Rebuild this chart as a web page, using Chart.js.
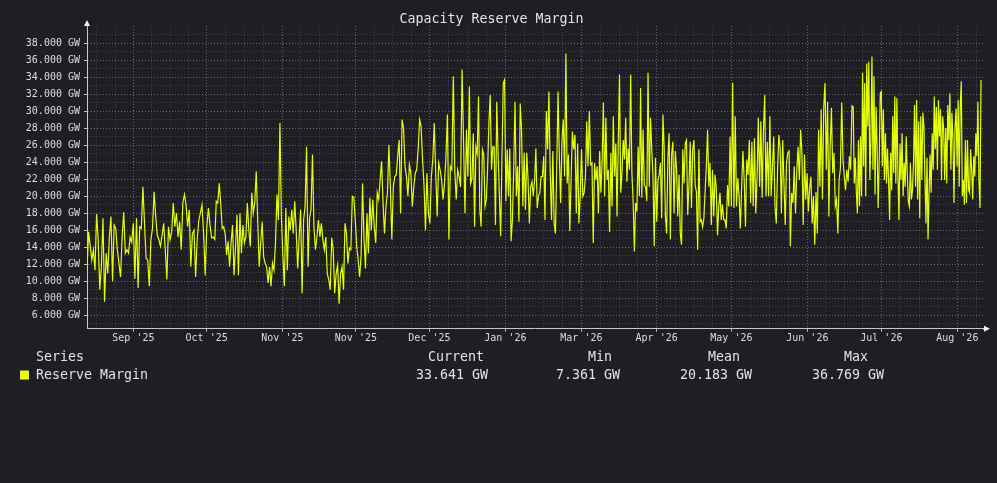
<!DOCTYPE html>
<html>
<head>
<meta charset="utf-8">
<title>Capacity Reserve Margin</title>
<script src="https://cdn.jsdelivr.net/npm/chart.js@4"></script>
<style>
  html, body { margin: 0; padding: 0; background: #1e1f22; }
  #chart { display: block; }
</style>
</head>
<body>
<canvas id="chart" width="997" height="483"></canvas>
<script>
// Reserve margin in GW in seven consecutive stretches.
// Each stretch is spread evenly over its own span of days.
const reserveAugSep = [11.3, 15.8, 14.2, 12.5, 13.7, 11.3, 17.9, 14.9, 9.0, 11.7, 17.4, 7.6, 13.3, 10.9, 15.2, 17.6, 10.0, 16.6, 16.2, 13.7,
  12.1, 10.5, 15.2, 18.1, 13.3, 13.7, 13.3, 15.2, 14.6, 16.8, 10.3, 17.4, 9.2, 16.4, 16.2, 21.1, 16.8, 12.7, 12.5, 9.4,
  14.9, 16.2, 20.5, 17.6, 15.4, 14.9, 14.1, 15.4, 16.8, 13.7, 10.2, 16.4, 14.9, 15.8, 19.2, 16.4, 18.0, 15.2, 17.0, 13.7,
  19.2, 20.2, 19.0, 16.4, 18.4, 11.7, 15.6, 16.0, 10.5, 14.9, 17.2, 18.0, 19.0, 15.6, 10.7, 16.4, 18.6, 16.6, 15.1, 15.2];
const reserveOctNov = [14.9, 19.4, 19.2, 21.5, 19.2, 16.2, 16.4, 15.6, 13.1, 14.7, 11.7, 14.5, 16.6, 10.7, 14.0, 17.8, 10.7, 18.0, 13.3, 16.6,
  14.5, 15.2, 19.2, 16.0, 14.1, 20.4, 18.0, 19.2, 22.9, 17.2, 11.7, 14.5, 17.0, 12.9, 12.1, 11.7, 9.8, 11.7, 9.4, 12.1,
  11.3, 14.5, 20.2, 17.2, 28.6, 17.6, 12.9, 9.4, 18.6, 11.3, 17.6, 16.0, 18.4, 15.6, 19.4, 16.0, 11.5, 15.2, 18.4, 8.6,
  17.2, 18.8, 25.8, 11.7, 17.4, 18.4, 24.9, 16.4, 13.7, 15.2, 17.2, 15.2, 16.8, 14.9, 13.7, 15.2, 10.9, 10.2, 9.0, 15.1,
  13.7, 8.6, 10.9, 11.9, 7.361, 10.9];
const reserveNovDec = [11.7, 9.0, 16.8, 15.6, 12.1, 13.9, 13.7, 20.0, 19.9, 17.2, 14.1, 12.5, 10.5, 13.0, 21.5, 14.9, 11.5, 18.0, 13.3, 19.8,
  16.0, 19.6, 16.4, 14.5, 20.4, 19.6, 21.9, 24.1, 19.2, 15.6, 18.8, 20.4, 26.0, 21.1, 14.9, 21.1, 22.3, 22.5, 24.7, 26.6,
  18.0, 29.0, 28.0, 23.5, 22.3, 20.0, 23.7, 22.7, 18.8, 21.1, 22.7, 23.1, 25.5, 29.0, 28.2, 24.3, 21.3, 16.0, 22.7, 18.0,
  16.8, 22.3, 24.3, 28.6, 22.7, 17.6, 23.9, 23.1, 21.9, 19.6, 21.5, 24.7, 29.6, 14.9, 23.5, 23.1, 34.1, 23.1, 19.6, 23.1,
  22.3, 21.1, 34.9, 26.6, 18.0, 27.8, 22.3];
const reserveJanFeb = [32.9, 21.5, 22.1, 27.4, 16.4, 25.8, 25.0, 31.7, 18.4, 16.4, 25.5, 24.9, 18.8, 19.6, 23.3, 28.6, 31.9, 23.1, 25.8, 25.8,
  16.6, 31.1, 25.1, 20.0, 15.3, 24.7, 33.3, 33.7, 19.4, 25.5, 20.0, 25.6, 14.7, 17.2, 23.3, 31.1, 20.0, 23.5, 17.0, 30.9,
  27.8, 18.8, 25.1, 18.4, 25.1, 21.9, 16.8, 21.1, 21.7, 20.0, 21.9, 25.6, 18.6, 20.0, 20.4, 22.3, 22.3, 24.7, 17.2, 30.0,
  25.5, 32.3, 22.7, 17.2, 25.3, 16.8, 15.6, 23.5, 32.3, 24.5, 19.2, 26.6, 29.0, 22.3, 36.769, 21.5, 24.9, 15.9, 21.9, 27.6,
  25.5, 27.2, 18.0, 26.2, 16.8, 20.0, 25.5, 20.0, 20.4, 22.3, 28.8, 23.5, 30.0, 23.7, 23.9, 14.5, 23.9, 21.9];
const reserveMarApr = [23.5, 18.0, 25.3, 20.4, 24.1, 31.0, 20.0, 29.2, 21.9, 23.1, 15.8, 25.1, 18.8, 29.4, 22.3, 26.2, 17.6, 26.2, 34.3, 20.4,
  22.7, 26.6, 24.3, 29.2, 21.7, 25.6, 23.1, 34.3, 22.7, 19.4, 13.5, 19.2, 18.2, 25.8, 20.0, 32.7, 19.8, 27.8, 21.3, 21.1,
  19.4, 34.5, 21.1, 29.2, 25.5, 22.3, 14.1, 24.5, 17.0, 21.9, 22.5, 23.9, 17.4, 29.6, 25.6, 17.6, 15.6, 24.3, 27.4, 14.9,
  24.9, 26.4, 18.0, 25.3, 23.1, 17.6, 22.5, 15.6, 14.3, 25.5, 21.5, 26.2, 26.6, 17.8, 21.3, 26.4, 18.6, 25.5, 26.6, 21.3,
  20.5, 13.7, 25.5, 17.0, 17.2, 16.4, 17.4, 20.5, 23.5, 27.8, 21.1, 23.9, 16.6, 23.1, 17.6, 22.5, 21.0, 15.4, 18.8, 20.4,
  17.2, 19.0, 17.2];
const reserveMayJun = [17.2, 16.2, 21.3, 18.8, 27.0, 18.8, 33.3, 18.6, 29.4, 18.8, 22.1, 20.0, 16.2, 21.1, 25.3, 21.9, 16.4, 24.3, 22.5, 26.6,
  19.2, 26.4, 18.8, 26.8, 18.0, 22.1, 29.2, 21.1, 28.8, 19.8, 27.8, 31.9, 20.0, 26.4, 20.0, 29.4, 20.0, 23.3, 27.0, 18.8,
  16.8, 23.1, 27.2, 25.6, 18.0, 26.6, 21.5, 16.6, 23.9, 25.1, 25.3, 14.1, 20.4, 19.2, 23.5, 18.0, 22.9, 25.8, 21.9, 27.8,
  25.1, 16.6, 24.9, 19.6, 22.7, 18.2, 20.9, 22.3, 16.8, 20.0, 14.3, 20.5, 15.6, 27.8, 21.1, 30.2, 19.6, 30.4, 33.3, 23.1,
  31.1, 17.6, 25.8, 30.4, 22.7, 25.1, 18.8, 19.6, 15.6, 21.9, 23.3, 31.0, 24.3, 22.3, 20.7, 23.1, 21.7, 24.7, 23.1, 30.6];
const reserveJulAug = [30.5, 21.5, 24.5, 20.4, 18.0, 26.6, 18.8, 27.0, 20.0, 34.5, 23.5, 33.3, 20.0, 35.6, 28.2, 35.8, 21.9, 26.6, 36.4, 23.1,
  34.1, 20.2, 30.5, 25.5, 18.6, 24.3, 32.1, 32.3, 23.5, 30.2, 21.9, 27.4, 21.5, 25.6, 21.9, 17.2, 25.1, 20.7, 29.4, 22.7,
  31.7, 21.5, 31.5, 22.7, 17.2, 26.2, 21.9, 27.4, 20.0, 23.9, 21.1, 27.0, 22.7, 19.4, 18.8, 23.9, 19.6, 20.7, 23.9, 30.7,
  21.1, 31.3, 19.6, 28.8, 17.4, 29.4, 21.9, 29.8, 28.2, 22.3, 16.8, 24.5, 14.9, 20.4, 24.9, 20.4, 27.4, 23.1, 31.7, 25.5,
  30.5, 23.1, 31.3, 27.0, 30.2, 21.9, 29.4, 28.0, 21.9, 28.0, 21.5, 30.7, 26.6, 32.1, 23.1, 29.8, 26.6, 19.2, 28.2, 30.3,
  23.5, 31.3, 21.1, 30.5, 33.5, 20.0, 21.9, 19.0, 26.6, 19.2, 26.6, 20.7, 20.4, 25.5, 23.1, 19.6, 24.7, 22.3, 27.4, 24.7,
  31.1, 21.9, 18.6, 33.641];

const segmentStartDays = [0, 51.8, 103.4, 155.0, 206.8, 258.6, 310.6];
const lastDay = 362.4;

// month ticks (day offsets) and the labels printed under them
const monthTickDays = [18.8, 48.5, 79.2, 109.0, 138.8, 169.6, 200.4, 230.9, 261.2, 292.0, 322.0, 352.8];
const monthLabels = ["Sep '25", "Oct '25", "Nov '25", "Nov '25", "Dec '25", "Jan '26", "Mar '26", "Apr '26", "May '26", "Jun '26", "Jul '26", "Aug '26"];

const legendHeaders = ['Current', 'Min', 'Mean', 'Max'];
const legendValues = ['33.641 GW', '7.361 GW', '20.183 GW', '36.769 GW'];
const seriesName = 'Reserve Margin';

const lineColor = '#e4ff00';
const majorGrid = 'rgba(255,255,255,0.32)';
const minorGrid = 'rgba(255,255,255,0.15)';
const mono = 'DejaVu Sans Mono';

const segments = [reserveAugSep, reserveOctNov, reserveNovDec, reserveJanFeb, reserveMarApr, reserveMayJun, reserveJulAug];
const points = [];
segments.forEach((values, s) => {
  const start = segmentStartDays[s];
  const isLast = s === segments.length - 1;
  const end = isLast ? lastDay : segmentStartDays[s + 1];
  const step = (end - start) / (isLast ? values.length - 1 : values.length);
  values.forEach((v, i) => points.push({ x: start + i * step, y: v }));
});

// quarter-month minor lines around the month ticks
const gridDays = [];
const firstGap = (monthTickDays[1] - monthTickDays[0]) / 4;
for (let d = monthTickDays[0] - firstGap; d > 0; d -= firstGap) gridDays.push(d);
monthTickDays.forEach((d, i) => {
  gridDays.push(d);
  const next = monthTickDays[i + 1];
  const gap = next !== undefined ? (next - d) / 4 : (d - monthTickDays[i - 1]) / 4;
  for (let k = 1; k < 4; k++) {
    const m = d + k * gap;
    if (next !== undefined || m < 363) gridDays.push(m);
  }
});
gridDays.sort((a, b) => a - b);

const gwTicks = [];
for (let g = 5; g <= 39; g++) gwTicks.push(g);

const isMonth = (v) => monthTickDays.some(d => Math.abs(d - v) < 1e-6);

const decorations = {
  id: 'decorations',
  beforeDraw(chart) {
    const ctx = chart.ctx;
    ctx.save();
    ctx.fillStyle = '#1e1f22';
    ctx.fillRect(0, 0, chart.width, chart.height);
    ctx.restore();
  },
  afterDraw(chart) {
    const ctx = chart.ctx;
    const area = chart.chartArea;
    ctx.save();
    // axis arrows
    ctx.fillStyle = '#f0f0f0';
    ctx.strokeStyle = '#c8c8c8';
    ctx.lineWidth = 1;
    ctx.beginPath();
    ctx.moveTo(area.left - 3, area.top);
    ctx.lineTo(area.left, area.top - 6);
    ctx.lineTo(area.left + 3, area.top);
    ctx.closePath();
    ctx.fill();
    ctx.beginPath();
    ctx.moveTo(area.right, area.bottom + 0.5);
    ctx.lineTo(area.right + 2, area.bottom + 0.5);
    ctx.stroke();
    ctx.beginPath();
    ctx.moveTo(area.right + 1, area.bottom - 3);
    ctx.lineTo(area.right + 7, area.bottom);
    ctx.lineTo(area.right + 1, area.bottom + 3);
    ctx.closePath();
    ctx.fill();

    // legend table
    const cols = [428, 588, 708, 844];
    const valueCols = [416, 556, 680, 812];
    ctx.font = '13.3px "' + mono + '"';
    ctx.textBaseline = 'middle';
    ctx.textAlign = 'left';
    ctx.fillStyle = '#e2e2e2';
    ctx.fillText('Series', 36, 357.5);
    legendHeaders.forEach((h, i) => ctx.fillText(h, cols[i], 357.5));
    ctx.fillText(seriesName, 36, 376);
    legendValues.forEach((v, i) => ctx.fillText(v, valueCols[i], 376));
    ctx.fillStyle = lineColor;
    ctx.fillRect(20, 370.5, 9, 9);
    ctx.restore();
  }
};

new Chart(document.getElementById('chart'), {
  type: 'line',
  data: {
    datasets: [{
      label: seriesName,
      data: points,
      borderColor: lineColor,
      borderWidth: 1.2,
      pointRadius: 0,
      tension: 0,
      fill: false
    }]
  },
  options: {
    responsive: false,
    animation: false,
    layout: { padding: { left: 0, right: 14, top: 0, bottom: 0 } },
    plugins: {
      legend: { display: false },
      tooltip: { enabled: false },
      title: {
        display: true,
        text: 'Capacity Reserve Margin',
        color: '#e4e4e4',
        font: { family: mono, size: 13.3, weight: 'normal', lineHeight: '12px' },
        padding: { top: 14, bottom: 0 }
      }
    },
    scales: {
      x: {
        type: 'linear',
        min: 0,
        max: 363.2,
        afterBuildTicks: (scale) => { scale.ticks = gridDays.map(v => ({ value: v })); },
        afterFit: (scale) => { scale.height = 154.3; },
        ticks: {
          autoSkip: false,
          maxRotation: 0,
          padding: 1,
          color: '#dcdcdc',
          font: { family: mono, size: 10 },
          callback: (value) => {
            const i = monthTickDays.findIndex(d => Math.abs(d - value) < 1e-6);
            return i >= 0 ? monthLabels[i] : '';
          }
        },
        grid: {
          color: (c) => isMonth(c.tick.value) ? majorGrid : minorGrid,
          tickColor: (c) => isMonth(c.tick.value) ? '#bbbbbb' : 'transparent',
          tickLength: 3,
          lineWidth: 1
        },
        border: { color: '#c8c8c8', width: 1, dash: [1, 2] }
      },
      y: {
        type: 'linear',
        min: 4.42,
        max: 40.0,
        afterBuildTicks: (scale) => { scale.ticks = gwTicks.map(v => ({ value: v })); },
        afterFit: (scale) => { scale.width = 87; },
        ticks: {
          autoSkip: false,
          padding: 4,
          color: '#dcdcdc',
          font: { family: mono, size: 10 },
          callback: (value) => value % 2 === 0 ? value.toFixed(3) + ' GW' : ''
        },
        grid: {
          color: (c) => c.tick.value % 2 === 0 ? majorGrid : minorGrid,
          tickColor: (c) => c.tick.value % 2 === 0 ? '#bbbbbb' : 'transparent',
          tickLength: 3,
          lineWidth: 1
        },
        border: { color: '#c8c8c8', width: 1, dash: [1, 2] }
      }
    }
  },
  plugins: [decorations]
});
</script>
</body>
</html>
